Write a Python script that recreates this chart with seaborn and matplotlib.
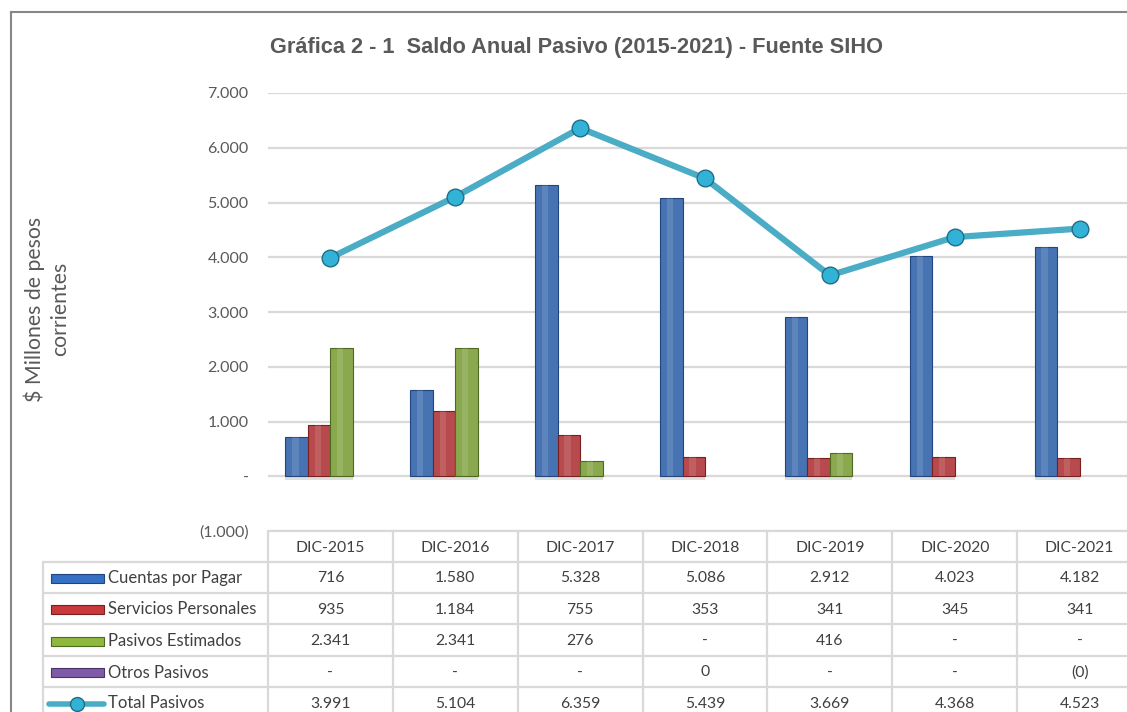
import numpy as np
import pandas as pd
import matplotlib
matplotlib.use("Agg")
import matplotlib.pyplot as plt
from matplotlib.patches import Rectangle
import seaborn as sns

# datos (millones de pesos corrientes)
periodos = ['DIC-2015', 'DIC-2016', 'DIC-2017', 'DIC-2018', 'DIC-2019', 'DIC-2020', 'DIC-2021']
cuentas_por_pagar = [716, 1580, 5328, 5086, 2912, 4023, 4182]
servicios_personales = [935, 1184, 755, 353, 341, 345, 341]
pasivos_estimados = [2341, 2341, 276, 0, 416, 0, 0]
otros_pasivos = [0, 0, 0, 0.3, 0, 0, -0.3]
total_pasivos = [3991, 5104, 6359, 5439, 3669, 4368, 4523]

series = ['Cuentas por Pagar', 'Servicios Personales', 'Pasivos Estimados', 'Otros Pasivos']
colores = ['#3570C4', '#C9383A', '#8FB83F', '#7D5BA8']
bordes = ['#1F467F', '#7A1E20', '#4E6A1E', '#4B3369']
color_total = '#4BACC6'
gris = '#595959'
calibri = ['Lato', 'DejaVu Sans']


def fmt(v):
    if v == 0:
        return '-'
    r = int(round(abs(v)))
    s = f"{r:,}".replace(',', '.')
    return f"({s})" if v < 0 else s


df = pd.DataFrame({
    'periodo': periodos * 4,
    'serie': np.repeat(series, len(periodos)),
    'valor': cuentas_por_pagar + servicios_personales + pasivos_estimados + otros_pasivos,
})

sns.set_theme(style='white')
plt.rcParams['font.family'] = ['Liberation Sans', 'DejaVu Sans']

W, H = 1127, 712
fig = plt.figure(figsize=(W / 100, H / 100), dpi=100)

ax_l, ax_r, ax_t, ax_b = 268, 1142, 93, 531
ax = fig.add_axes([ax_l / W, 1 - ax_b / H, (ax_r - ax_l) / W, (ax_b - ax_t) / H])

sns.barplot(data=df, x='periodo', y='valor', hue='serie', hue_order=series,
            palette=colores, width=0.72, legend=False, ax=ax, zorder=3)
# bordes y brillo de las barras
for i, cont in enumerate(ax.containers):
    for p in cont.patches:
        x, w, h = p.get_x(), p.get_width(), p.get_height()
        if abs(h) < 1:
            p.set_visible(False)
            continue
        p.set_edgecolor(bordes[i])
        p.set_linewidth(0.8)
        ax.add_patch(Rectangle((x + w * 0.3, 0), w * 0.28, h, color='white',
                               alpha=0.12, lw=0, zorder=4))
        # sombra bajo la barra
        ax.add_patch(Rectangle((x, -60), w, 60, color='#BFBFBF', alpha=0.5, lw=0, zorder=2))

sns.pointplot(x=periodos, y=total_pasivos, color=color_total, markers='o',
              markersize=12, linewidth=4.5, ax=ax, zorder=5,
              markeredgecolor='#1F6F86', markerfacecolor='#31B2D6', markeredgewidth=1)

ax.set_xlim(-0.5, 6.5)
ax.set_ylim(-1000, 7000)
ax.set_yticks(range(-1000, 7001, 1000))
ax.set_yticklabels([fmt(v) for v in range(-1000, 7001, 1000)], family=calibri)
ax.tick_params(axis='y', length=0, pad=14, labelsize=11.5, labelcolor=gris)
ax.set_xticks([])
ax.set_xlabel('')
ax.set_ylabel('')
ax.grid(axis='y', color='#D9D9D9', linewidth=1.6, zorder=0)
for s in ax.spines.values():
    s.set_visible(False)

fig.text(577 / W, 1 - 48 / H, 'Gráfica 2 - 1  Saldo Anual Pasivo (2015-2021) - Fuente SIHO',
         ha='center', va='center', fontsize=15.7, fontweight='bold', color=gris)
fig.text(47 / W, 1 - 309 / H, '$ Millones de pesos\ncorrientes', rotation=90,
         ha='center', va='center', multialignment='center', fontsize=15.3, color=gris,
         linespacing=1.35, family=calibri)

# tabla de datos
ov = fig.add_axes([0, 0, 1, 1], facecolor='none')
ov.set_xlim(0, W)
ov.set_ylim(H, 0)
ov.axis('off')

linea = dict(color='#D9D9D9', lw=1.6, clip_on=False)
col_w = (ax_r - ax_l) / len(periodos)
col_x = [ax_l + i * col_w for i in range(len(periodos) + 1)]
row_y = [531, 562, 593, 624, 656, 687, 718]
tab_left = 43

ov.plot([ax_l, ax_r], [row_y[0], row_y[0]], **linea)
for y in row_y[1:]:
    ov.plot([tab_left, ax_r], [y, y], **linea)
for x in col_x:
    ov.plot([x, x], [row_y[0], row_y[-1]], **linea)
ov.plot([tab_left, tab_left], [row_y[1], row_y[-1]], **linea)

txt = dict(ha='center', va='center', fontsize=11.3, color='#404040', family=calibri)
for j, per in enumerate(periodos):
    ov.text((col_x[j] + col_x[j + 1]) / 2, (row_y[0] + row_y[1]) / 2 + 1, per, **txt)

filas = [cuentas_por_pagar, servicios_personales, pasivos_estimados, otros_pasivos, total_pasivos]
nombres = series + ['Total Pasivos']
for i, (nombre, vals) in enumerate(zip(nombres, filas)):
    ym = (row_y[i + 1] + row_y[i + 2]) / 2 + 1
    for j, v in enumerate(vals):
        ov.text((col_x[j] + col_x[j + 1]) / 2, ym, fmt(v), **txt)
    if i < 4:
        ov.add_patch(Rectangle((51, ym - 4.5), 53, 9, facecolor=colores[i],
                               edgecolor=bordes[i], lw=0.8))
    else:
        ov.plot([49, 104], [ym, ym], color=color_total, lw=4, solid_capstyle='round')
        ov.plot([77], [ym], 'o', markersize=10, markerfacecolor='#31B2D6',
                markeredgecolor='#1F6F86', markeredgewidth=1)
    ov.text(108, ym, nombre, ha='left', va='center', fontsize=12, color='#404040',
            family=calibri)

# marco del área del gráfico (solo bordes superior e izquierdo visibles)
marco = dict(color='#878787', lw=1.5, clip_on=False, solid_capstyle='projecting')
ov.plot([11, W + 20], [12, 12], **marco)
ov.plot([11, 11], [12, H + 20], **marco)

fig.savefig('out.png', dpi=100)
